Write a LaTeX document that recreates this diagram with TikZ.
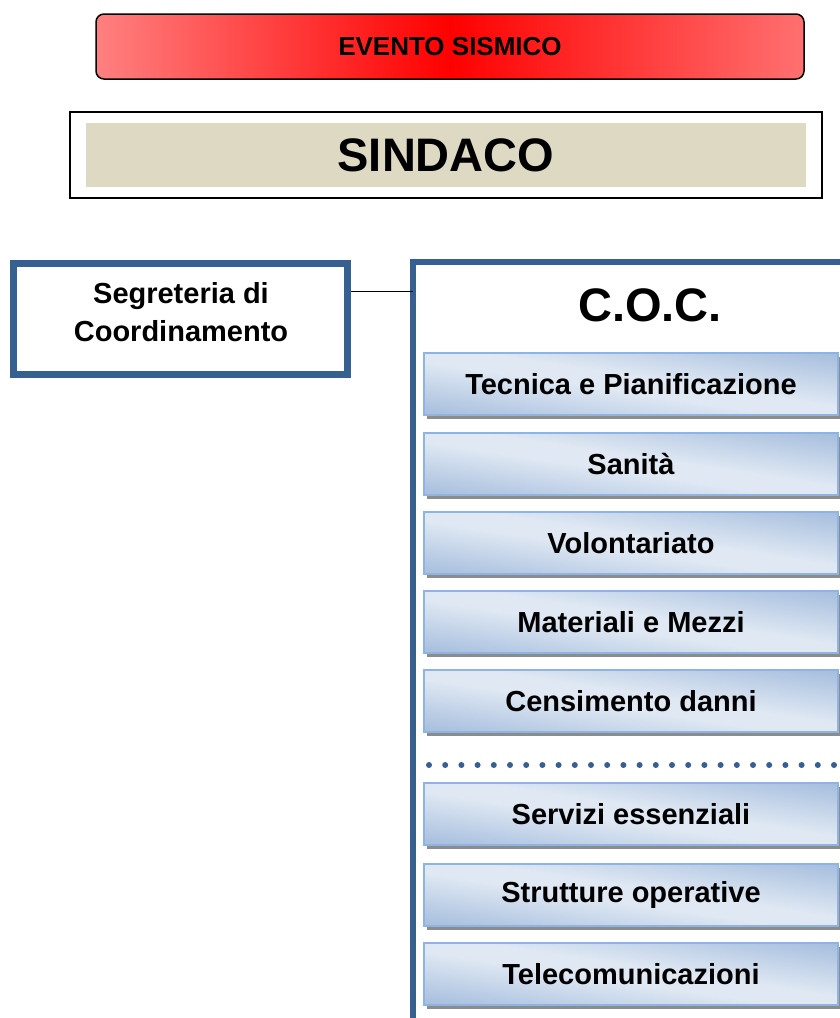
\documentclass[tikz,border=0pt]{standalone}
\usepackage{fontspec}
\setmainfont{Liberation Sans}
\usetikzlibrary{shadows}
\definecolor{cocblue}{HTML}{376092}
\definecolor{tanfill}{HTML}{DDD9C3}
\definecolor{boxedge}{HTML}{8EB4E3}
\definecolor{boxdark}{HTML}{8AA9D3}
\definecolor{boxlight}{HTML}{DFE8F3}
\definecolor{redlight}{HTML}{FF8080}
\definecolor{redright}{HTML}{FF7070}
\pgfdeclareverticalshading{funcshade}{100bp}{color(0bp)=(boxdark); color(40bp)=(boxdark); color(49bp)=(boxlight); color(51bp)=(boxlight); color(60bp)=(boxdark); color(100bp)=(boxdark)}
\tikzset{
  txt/.style={font=\bfseries\fontsize{#1}{#1}\selectfont, inner sep=0pt},
  eventbox/.style={draw=black, line width=1.5pt, rounded corners=8pt,
    left color=redlight, right color=redright, middle color=red,
    minimum width=708pt, minimum height=65pt, inner sep=0pt,
    font=\bfseries\fontsize{26}{26}\selectfont},
  outerbox/.style={draw=black, line width=1.5pt, fill=white,
    minimum width=752pt, minimum height=86pt, inner sep=0pt},
  tanbox/.style={fill=tanfill, minimum width=720pt, minimum height=64pt, inner sep=0pt,
    font=\bfseries\fontsize{47}{47}\selectfont},
  segbox/.style={draw=cocblue, line width=7pt, minimum width=334pt, minimum height=111pt, inner sep=0pt},
  cocframe/.style={draw=cocblue, line width=6pt, minimum width=480pt, minimum height=820pt,
    inner sep=0pt, outer sep=0pt, anchor=north west},
  funcbox/.style={draw=boxedge, line width=1.2pt, fill=boxlight,
    path picture={
      \shade[shading=funcshade, shading angle=-8.5]
        ([shift={(-215pt,-215pt)}]path picture bounding box.center) rectangle
        ([shift={(215pt,215pt)}]path picture bounding box.center);},
    minimum width=414pt, minimum height=62pt, inner sep=0pt,
    general shadow={shadow xshift=3pt, shadow yshift=-4pt, fill=black!45},
    font=\bfseries\fontsize{29}{29}\selectfont},
  link/.style={draw=black, line width=1pt},
  dots/.style={draw=cocblue, line width=6pt, line cap=round, dash pattern=on 0pt off 16.2pt}
}
\begin{document}
\begin{tikzpicture}[x=1pt,y=-1pt]
\useasboundingbox (0,0) rectangle (840,1018);
\clip (0,0) rectangle (840,1018);
\fill[white] (0,0) rectangle (840,1018);

\node[eventbox] (evento) at (450,46.5) {EVENTO SISMICO};

\node[outerbox] (sindaco) at (446,155) {};
\node[tanbox] (sindacotxt) at (446,155) {SINDACO};

\node[segbox] (segr) at (180.5,318.5) {};
\node[txt=29, align=center, font=\bfseries\fontsize{29}{38}\selectfont] (segrtxt) at (181,312) {Segreteria di\\Coordinamento};

\node[cocframe] (coc) at (413,262) {};
\node[txt=47] (coctxt) at (650,305) {C.O.C.};

\coordinate (segrout) at ([yshift=27.5pt]segr.east);
\draw[link] (segrout) -- (segrout -| coc.west);

\node[funcbox] (f1) at (631,384) {Tecnica e Pianificazione};
\node[funcbox] (f2) at (631,464) {Sanità};
\node[funcbox] (f3) at (631,543) {Volontariato};
\node[funcbox] (f4) at (631,622) {Materiali e Mezzi};
\node[funcbox] (f5) at (631,701) {Censimento danni};

\coordinate (dotl) at (429,765);
\coordinate (dotr) at (836,765);
\draw[dots] (dotl) -- (dotr);

\node[funcbox] (f6) at (631,814) {Servizi essenziali};
\node[funcbox] (f7) at (631,895) {Strutture operative};
\node[funcbox] (f8) at (631,974) {Telecomunicazioni};
\end{tikzpicture}
\end{document}
